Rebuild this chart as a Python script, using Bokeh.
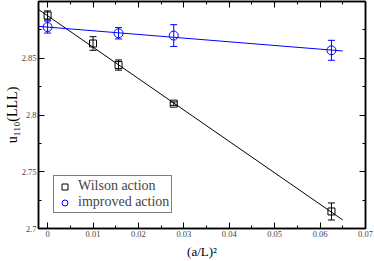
from bokeh.plotting import figure
from bokeh.models import (LinearAxis, FixedTicker, Whisker, TeeHead, ColumnDataSource,
                          Legend, LegendItem, Range1d)
from bokeh.embed import file_html
from bokeh.resources import INLINE

# ---- data ----
wilson_x = [0.0, 0.01, 0.015625, 0.027778, 0.0625]
wilson_y = [2.8877, 2.8630, 2.8440, 2.8100, 2.7150]
wilson_err = [0.004, 0.006, 0.0045, 0.0015, 0.0075]

improved_x = [0.0, 0.015625, 0.027778, 0.0625]
improved_y = [2.8775, 2.8720, 2.8700, 2.8570]
improved_err = [0.0053, 0.005, 0.0096, 0.0088]

fit_x = [-0.002, 0.065]
wilson_fit_y = [2.8930, 2.7075]
improved_fit_y = [2.8781, 2.8564]

x_ticks = [0.0, 0.01, 0.02, 0.03, 0.04, 0.05, 0.06, 0.07]
x_tick_labels = ["0", "0.01", "0.02", "0.03", "0.04", "0.05", "0.06", "0.07"]
x_minor = [0.005, 0.015, 0.025, 0.035, 0.045, 0.055, 0.065]
y_ticks = [2.7, 2.75, 2.8, 2.85, 2.9]
y_tick_labels = ["2.7", "2.75", "2.8", "2.85", ""]
y_minor = [2.725, 2.775, 2.825, 2.875]

x_title = "(a/L)\u00b2"
y_title = "u\u2081\u2081\u2080(LLL)"

FONT = "Liberation Serif"
BLUE = "#0000ff"
BLACK = "#000000"

p = figure(width=374, height=261, output_backend="svg", toolbar_location=None,
           x_range=Range1d(-0.002, 0.07), y_range=Range1d(2.7, 2.9),
           min_border_left=38, min_border_right=9, min_border_top=1, min_border_bottom=32,
           x_axis_type=None, y_axis_type=None)
p.grid.visible = False
p.outline_line_color = BLACK
p.outline_line_width = 1.5
p.background_fill_color = "white"
p.border_fill_color = "white"


def style(ax, labels, overrides):
    ax.axis_line_width = 1.5
    ax.axis_line_color = BLACK
    ax.major_tick_in = 6
    ax.major_tick_out = 0
    ax.minor_tick_in = 3
    ax.minor_tick_out = 0
    ax.major_tick_line_color = BLACK
    ax.minor_tick_line_color = BLACK
    ax.major_label_text_font = FONT
    ax.major_label_standoff = 2
    ax.axis_label_text_font = FONT
    ax.axis_label_text_font_style = "normal"
    ax.axis_label_text_color = BLACK
    if labels:
        ax.major_label_text_font_size = "8.5px"
        ax.major_label_overrides = overrides
    else:
        ax.major_label_text_font_size = "0px"
        ax.major_label_text_color = None
        ax.major_label_standoff = 0


xo = dict(zip(x_ticks, x_tick_labels))
yo = dict(zip(y_ticks, y_tick_labels))
for place, labels in (("below", True), ("above", False)):
    ax = LinearAxis(ticker=FixedTicker(ticks=x_ticks, minor_ticks=x_minor))
    style(ax, labels, xo)
    if labels:
        ax.axis_label = x_title
        ax.axis_label_text_font_size = "13px"
        ax.axis_label_standoff = 4
    p.add_layout(ax, place)
for place, labels in (("left", True), ("right", False)):
    ax = LinearAxis(ticker=FixedTicker(ticks=y_ticks, minor_ticks=y_minor))
    style(ax, labels, yo)
    if labels:
        ax.axis_label = y_title
        ax.axis_label_text_font_size = "14px"
        ax.axis_label_standoff = -1
    p.add_layout(ax, place)

# fit lines
p.line(fit_x, wilson_fit_y, line_color=BLACK, line_width=1)
p.line(fit_x, improved_fit_y, line_color=BLUE, line_width=1)

# error bars
ws = ColumnDataSource(dict(x=wilson_x, y=wilson_y,
                           lo=[a - b for a, b in zip(wilson_y, wilson_err)],
                           hi=[a + b for a, b in zip(wilson_y, wilson_err)]))
isrc = ColumnDataSource(dict(x=improved_x, y=improved_y,
                             lo=[a - b for a, b in zip(improved_y, improved_err)],
                             hi=[a + b for a, b in zip(improved_y, improved_err)]))
for src, col in ((ws, BLACK), (isrc, BLUE)):
    p.add_layout(Whisker(base="x", upper="hi", lower="lo", source=src, line_color=col,
                         line_width=1,
                         upper_head=TeeHead(size=7, line_color=col, line_width=1),
                         lower_head=TeeHead(size=7, line_color=col, line_width=1)))

sq = p.scatter("x", "y", source=ws, marker="square", size=7, fill_color=None,
               line_color=BLACK, line_width=1)
ci = p.scatter("x", "y", source=isrc, marker="circle", size=9, fill_color=None,
               line_color=BLUE, line_width=1)

legend = Legend(items=[LegendItem(label="Wilson action", renderers=[sq]),
                       LegendItem(label="improved action", renderers=[ci])],
                location=(15, 15), label_text_font=FONT, label_text_font_size="14px",
                border_line_color=BLACK, border_line_width=1, background_fill_color="white",
                background_fill_alpha=1, padding=2, spacing=0, margin=0,
                glyph_width=17, glyph_height=15, label_height=15, label_standoff=5)
p.add_layout(legend)

open("out.html", "w").write(file_html(p, INLINE))
